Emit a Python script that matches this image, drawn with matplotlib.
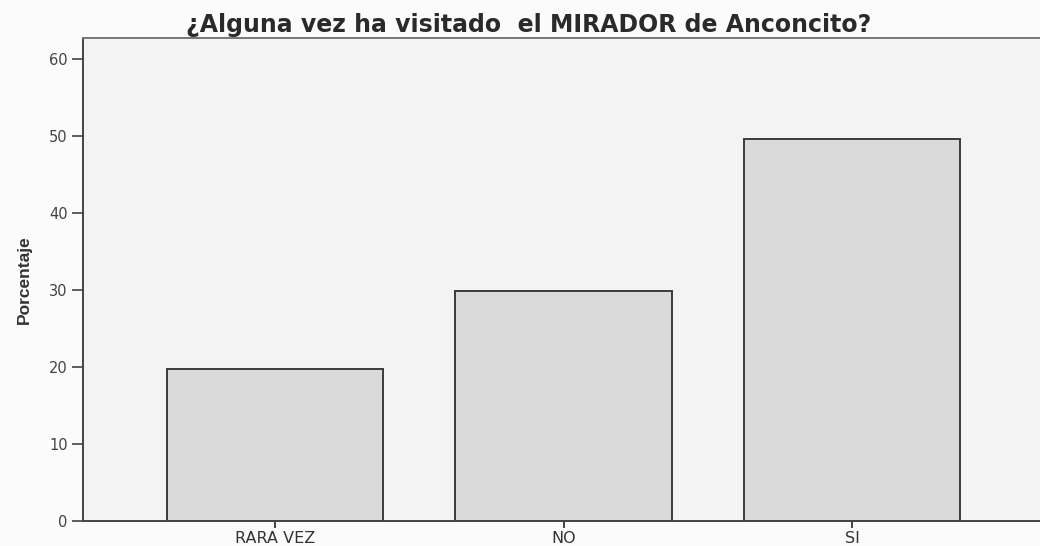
import matplotlib.pyplot as plt
import numpy as np

categories = ["RARA VEZ", "NO", "SI"]
percentages = [19.7, 29.8, 49.6]
y_ticks = [0, 10, 20, 30, 40, 50, 60]

title = "¿Alguna vez ha visitado  el MIRADOR de Anconcito?"

plt.rcParams["font.family"] = ["DejaVu Sans"]

fig = plt.figure(figsize=(10.4, 5.46), dpi=100, facecolor="#fbfbfb")
ax = fig.add_axes([0.0798, 0.0458, 0.9202, 0.8846])
ax.set_facecolor("#f3f3f3")

x = np.arange(len(categories))
ax.bar(x, percentages, width=0.75, color="#dadada", edgecolor="#3a3a3a", linewidth=1.4)

ax.set_xlim(-0.666, 2.652)
ax.set_ylim(0, 62.7)
ax.set_xticks(x)
ax.set_xticklabels(categories, fontsize=11.5, color="#333333")
ax.set_yticks(y_ticks)
ax.set_yticklabels([str(v) for v in y_ticks], fontsize=10.5, color="#444444")
ax.tick_params(axis="y", length=8, width=1.2, color="#444444", pad=3)
ax.tick_params(axis="x", length=5, width=1.4, color="#444444", pad=2)

for side in ["left", "bottom", "top"]:
    ax.spines[side].set_color("#444444")
    ax.spines[side].set_linewidth(1.4)
ax.spines["top"].set_color("#777777")
ax.spines["right"].set_visible(False)

ax.set_ylabel("Porcentaje", fontsize=12.5, fontweight="bold", color="#333333",
              family="Liberation Sans", labelpad=12)

fig.text(0.508, 0.955, title, ha="center", va="center", fontsize=17,
         fontweight="bold", color="#2a2a2a")

fig.savefig("out.png", dpi=100, facecolor=fig.get_facecolor())
